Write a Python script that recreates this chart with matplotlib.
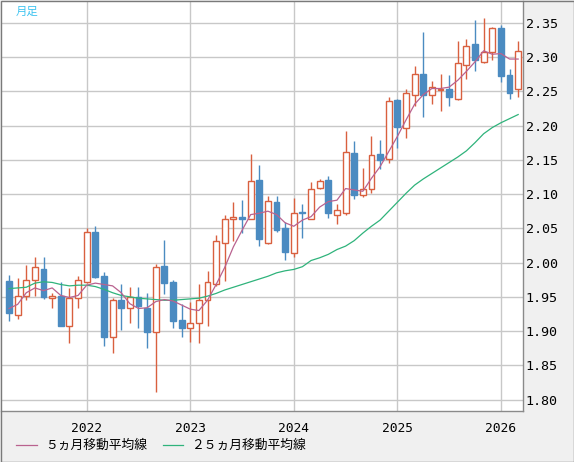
import matplotlib
matplotlib.use("Agg")
import matplotlib.pyplot as plt
from matplotlib.patches import Rectangle
from matplotlib.lines import Line2D

# ---- data (monthly, Apr 2021 .. Mar 2026) ----
opens = [1.973, 1.923, 1.951, 1.975, 1.991, 1.949, 1.951, 1.908, 1.949, 1.971,
         2.045, 1.980, 1.892, 1.946, 1.934, 1.950, 1.934, 1.898, 1.995, 1.971,
         1.916, 1.905, 1.912, 1.945, 1.968, 2.028, 2.064, 2.066, 2.064, 2.120,
         2.029, 2.089, 2.050, 2.014, 2.074, 2.064, 2.109, 2.120, 2.070, 2.073,
         2.160, 2.099, 2.107, 2.159, 2.151, 2.237, 2.197, 2.244, 2.275, 2.245,
         2.252, 2.253, 2.239, 2.288, 2.319, 2.292, 2.307, 2.342, 2.273, 2.253]
highs = [1.982, 1.978, 1.997, 2.008, 2.008, 1.955, 1.971, 1.963, 1.980, 2.051,
         2.054, 1.986, 1.949, 1.968, 1.964, 1.964, 1.955, 1.998, 2.033, 1.974,
         1.940, 1.942, 1.968, 1.987, 2.040, 2.069, 2.089, 2.092, 2.159, 2.142,
         2.097, 2.097, 2.059, 2.094, 2.085, 2.117, 2.122, 2.126, 2.086, 2.192,
         2.177, 2.138, 2.185, 2.179, 2.242, 2.238, 2.254, 2.287, 2.337, 2.265,
         2.275, 2.273, 2.323, 2.326, 2.354, 2.357, 2.344, 2.347, 2.282, 2.323]
lows = [1.915, 1.917, 1.945, 1.951, 1.947, 1.933, 1.908, 1.883, 1.934, 1.970,
        1.978, 1.878, 1.868, 1.902, 1.912, 1.905, 1.876, 1.811, 1.954, 1.905,
        1.892, 1.884, 1.883, 1.908, 1.966, 1.973, 2.032, 2.043, 2.063, 2.024,
        2.027, 2.045, 2.004, 2.008, 2.036, 2.063, 2.108, 2.065, 2.056, 2.070,
        2.093, 2.096, 2.102, 2.136, 2.146, 2.167, 2.182, 2.228, 2.213, 2.231,
        2.221, 2.228, 2.237, 2.268, 2.279, 2.291, 2.296, 2.263, 2.239, 2.242]
closes = [1.927, 1.951, 1.975, 1.993, 1.950, 1.951, 1.908, 1.949, 1.975, 2.044,
          1.979, 1.892, 1.946, 1.934, 1.950, 1.936, 1.898, 1.993, 1.970, 1.915,
          1.904, 1.912, 1.945, 1.972, 2.031, 2.064, 2.067, 2.064, 2.119, 2.034,
          2.090, 2.048, 2.015, 2.073, 2.073, 2.108, 2.119, 2.072, 2.076, 2.161,
          2.099, 2.107, 2.157, 2.149, 2.236, 2.198, 2.248, 2.275, 2.244, 2.256,
          2.254, 2.241, 2.291, 2.316, 2.296, 2.308, 2.342, 2.272, 2.247, 2.309]
ma5 = [1.933, 1.939, 1.956, 1.963, 1.959, 1.963, 1.952, 1.949, 1.952, 1.967,
       1.970, 1.968, 1.966, 1.956, 1.940, 1.933, 1.934, 1.943, 1.946, 1.944,
       1.938, 1.932, 1.930, 1.945, 1.968, 1.993, 2.023, 2.047, 2.070, 2.072,
       2.075, 2.070, 2.058, 2.053, 2.062, 2.067, 2.081, 2.089, 2.091, 2.108,
       2.106, 2.104, 2.123, 2.140, 2.162, 2.184, 2.208, 2.231, 2.245, 2.254,
       2.254, 2.256, 2.266, 2.279, 2.293, 2.309, 2.304, 2.305, 2.297, 2.297]
ma25 = [1.962, 1.963, 1.964, 1.970, 1.972, 1.971, 1.968, 1.966, 1.967, 1.967,
        1.965, 1.961, 1.956, 1.952, 1.950, 1.948, 1.947, 1.946, 1.945, 1.945,
        1.946, 1.947, 1.948, 1.951, 1.955, 1.960, 1.964, 1.968, 1.972, 1.976,
        1.980, 1.985, 1.988, 1.990, 1.994, 2.003, 2.007, 2.012, 2.019, 2.024,
        2.032, 2.043, 2.053, 2.062, 2.075, 2.088, 2.101, 2.113, 2.122, 2.130,
        2.138, 2.146, 2.154, 2.163, 2.175, 2.188, 2.197, 2.204, 2.210, 2.216]
year_labels = ["2022", "2023", "2024", "2025", "2026"]
year_tick_idx = [9, 21, 33, 45, 57]
y_ticks = [1.80, 1.85, 1.90, 1.95, 2.00, 2.05, 2.10, 2.15, 2.20, 2.25, 2.30, 2.35]

UP = "#d9603f"
DOWN = "#4b8bc1"
C_MA5 = "#b9628f"
C_MA25 = "#2fb37b"
GRID = "#c8c8c8"

W, H = 574, 462
fig = plt.figure(figsize=(W / 100, H / 100), dpi=100)
fig.patch.set_facecolor("#f0f0f0")
ax = fig.add_axes([1 / W, (H - 411) / H, 522 / W, 410 / H])
ax.set_facecolor("white")

x = list(range(len(opens)))
ax.set_xlim(-0.93, 59.56)
ax.set_ylim(1.7834, 2.3817)

ax.set_yticks(y_ticks)
ax.set_yticklabels([f"{v:.2f}" for v in y_ticks])
ax.set_xticks(year_tick_idx)
ax.set_xticklabels(year_labels)
ax.yaxis.tick_right()
ax.tick_params(axis="y", length=0, pad=2, labelsize=9.6, colors="black")
ax.tick_params(axis="x", length=0, pad=8, labelsize=9.3, colors="black")
for lab in ax.get_xticklabels() + ax.get_yticklabels():
    lab.set_fontfamily("DejaVu Sans Mono")
ax.grid(True, color=GRID, linewidth=1.0)
ax.set_axisbelow(True)
for s in ["left", "top"]:
    ax.spines[s].set_visible(False)
for s in ["right", "bottom"]:
    ax.spines[s].set_color("#8a8a8a")
    ax.spines[s].set_linewidth(1.0)

bw = 0.68
for i in x:
    o, h, l, c = opens[i], highs[i], lows[i], closes[i]
    if c >= o:
        col = UP
        ax.vlines(i, l, h, color=col, linewidth=1.0, zorder=3)
        ax.add_patch(Rectangle((i - bw / 2, o), bw, c - o, facecolor="white",
                               edgecolor=col, linewidth=1.0, zorder=4))
    else:
        col = DOWN
        ax.vlines(i, l, h, color=col, linewidth=1.0, zorder=3)
        ax.add_patch(Rectangle((i - bw / 2, c), bw, o - c, facecolor=col,
                               edgecolor=col, linewidth=1.0, zorder=4))

ax.plot(x, ma25, color=C_MA25, linewidth=0.9, zorder=5)
ax.plot(x, ma5, color=C_MA5, linewidth=0.9, zorder=5)

# label
fig.text(16 / W, 1 - 12 / H, "月足", color="#3cc3f0", fontsize=8.2,
         family=["Noto Sans CJK JP", "DejaVu Sans"], va="center", ha="left")

# legend
ly = 1 - 445 / H
fig.add_artist(Line2D([16 / W, 37 / W], [ly, ly], color=C_MA5, linewidth=0.9))
fig.text(45 / W, ly, "５ヵ月移動平均線", fontsize=9.2,
         family=["Noto Sans CJK JP", "DejaVu Sans"], va="center", ha="left")
fig.add_artist(Line2D([163 / W, 183 / W], [ly, ly], color=C_MA25, linewidth=0.9))
fig.text(191 / W, ly, "２５ヵ月移動平均線", fontsize=9.2,
         family=["Noto Sans CJK JP", "DejaVu Sans"], va="center", ha="left")

# outer border
fig.add_artist(Rectangle((0.5 / W, 0.5 / H), (W - 1) / W, (H - 1) / H,
                         transform=fig.transFigure, fill=False,
                         edgecolor="#7a7a7a", linewidth=1.0))

fig.savefig("out.png", dpi=100, facecolor=fig.get_facecolor())
